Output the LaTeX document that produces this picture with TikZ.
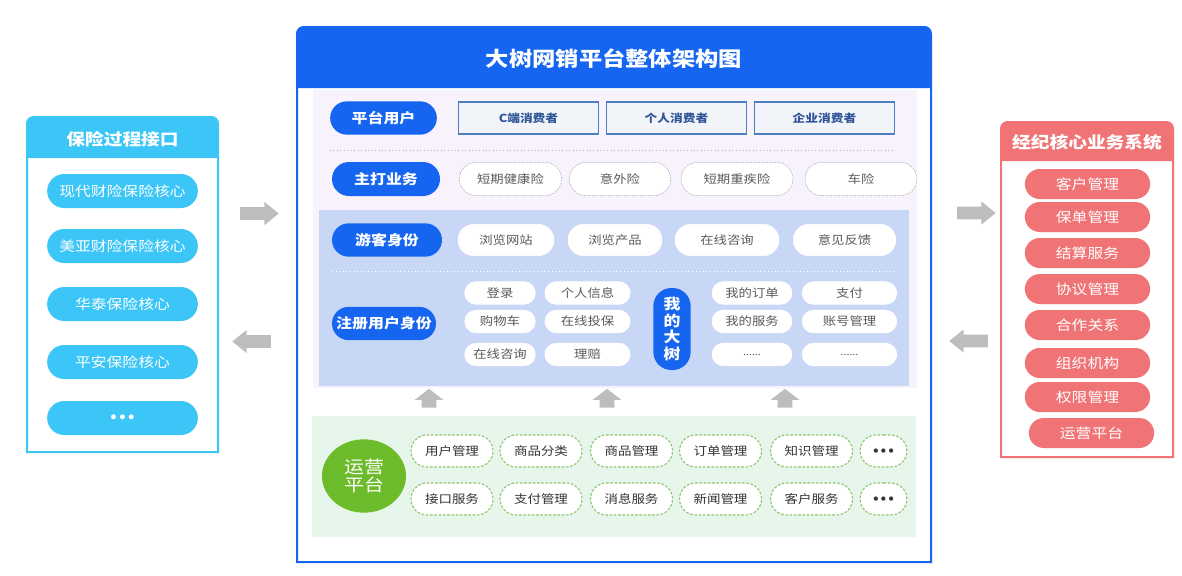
\documentclass[tikz,border=0pt]{standalone}
\usepackage{fontspec}
\setmainfont{Noto Sans CJK SC}[FakeStretch=1.15]
\newfontfamily\dotfont{DejaVu Sans}
\usetikzlibrary{shapes.misc,shapes.arrows,shapes.geometric}
\definecolor{mainblue}{HTML}{1565F0}
\definecolor{lcyan}{HTML}{3CC6F7}
\definecolor{rsalmon}{HTML}{F07476}
\definecolor{lavbg}{HTML}{F7F2FB}
\definecolor{bluebg}{HTML}{C8D7F6}
\definecolor{greenbg}{HTML}{E6F6EA}
\definecolor{opgreen}{HTML}{6CBB2A}
\definecolor{greendash}{HTML}{8DC46C}
\definecolor{graydash}{HTML}{A3A8B8}
\definecolor{boxline}{HTML}{4F7EC0}
\definecolor{boxfill}{HTML}{F1F4F9}
\definecolor{boxtext}{HTML}{2F5597}
\definecolor{graytext}{HTML}{5A5A5A}
\definecolor{arrgray}{HTML}{BDBDBD}
\newcommand{\tridots}{\raisebox{-0.34em}[0pt][0pt]{•••}}

\begin{document}
\begin{tikzpicture}[
x=0.75pt,y=-0.75pt
]

\tikzstyle{bp} = [rounded rectangle, fill=mainblue, text=white, font=\fontsize{10.4}{12}\selectfont\bfseries, minimum height=25pt, inner sep=0pt]
\tikzstyle{ub} = [draw=boxline, fill=boxfill, line width=1pt, text=boxtext, font=\fontsize{8.3}{10}\selectfont\bfseries, minimum width=105pt, minimum height=24pt]
\tikzstyle{gp} = [rounded rectangle, draw=graydash, dash pattern=on 1.2pt off 0.8pt, fill=white, text=graytext, font=\fontsize{8.7}{10}\selectfont, minimum height=25pt, inner sep=0pt]
\tikzstyle{wp} = [rounded rectangle, draw=white, fill=white, text=graytext, font=\fontsize{8.7}{10}\selectfont, minimum height=23.5pt, inner sep=0pt]
\tikzstyle{sp} = [wp, minimum height=17pt]
\tikzstyle{op} = [rounded rectangle, draw=greendash, dash pattern=on 2pt off 1.2pt, line width=0.8pt, fill=white, text=black!80, font=\fontsize{8.8}{10}\selectfont, minimum width=61.5pt, minimum height=24pt, inner sep=0pt]
\tikzstyle{lp} = [rounded rectangle, fill=lcyan, text=white, font=\fontsize{10.3}{12}\selectfont, minimum width=113pt, minimum height=25.5pt, inner sep=0pt]
\tikzstyle{rp} = [rounded rectangle, fill=rsalmon, text=white, font=\fontsize{10.3}{12}\selectfont, minimum width=94pt, minimum height=22.5pt, inner sep=0pt]
\tikzstyle{ga} = [single arrow, fill=arrgray, inner xsep=0pt, inner ysep=4.5pt, single arrow head extend=4pt, single arrow tip angle=78, minimum height=29pt]
\tikzstyle{gu} = [single arrow, fill=arrgray, inner xsep=0pt, inner ysep=5.25pt, single arrow head extend=5.25pt, single arrow tip angle=105, minimum height=14pt, rotate=90]

\useasboundingbox (0,0) rectangle (1182,575);

\fill[white] (27,117) rectangle (218,452);
\fill[lcyan] (27,158) [rounded corners=5pt] -- (27,117) -- (218,117) [sharp corners] -- (218,158) -- cycle;
\draw[lcyan, line width=1.5pt] (27,452) [rounded corners=5pt] -- (27,117) -- (218,117) [sharp corners] -- (218,452) -- cycle;
\node[text=white, font=\fontsize{12.2}{14}\selectfont\bfseries] (lt) at (122.5,139) {保险过程接口};
\node[lp] (l1) at (122.5,191) {现代财险保险核心};
\node[lp] (l2) at (122.5,246) {美亚财险保险核心};
\node[lp] (l3) at (122.5,304) {华泰保险核心};
\node[lp] (l4) at (122.5,362) {平安保险核心};
\node[lp, font=\dotfont\fontsize{10.5}{12}\selectfont\bfseries] (l5) at (122.5,418) {\tridots};

\node[ga] (al1) at (255.5,213.5) {};
\node[ga, rotate=180] (al2) at (255.5,341.5) {};

\fill[white] (297,27) rectangle (931,562);
\fill[mainblue] (297,88) [rounded corners=5pt] -- (297,27) -- (931,27) [sharp corners] -- (931,88) -- cycle;
\draw[mainblue, line width=1.5pt] (297,562) [rounded corners=5pt] -- (297,27) -- (931,27) [sharp corners] -- (931,562) -- cycle;
\node[text=white, font=\fontsize{15.2}{18}\selectfont\bfseries] (mt) at (614,59) {大树网销平台整体架构图};

\fill[lavbg] (313,90) rectangle (917,388);
\node[bp, minimum width=80pt] (u0) at (383.5,118) {平台用户};
\node[ub] (u1) at (528.5,118) {C端消费者};
\node[ub] (u2) at (676.5,118) {个人消费者};
\node[ub] (u3) at (824.5,118) {企业消费者};
\draw[black!30, dotted, line width=0.6pt] (330,150) -- (895,150);
\node[bp, minimum width=81pt, minimum height=25.5pt] (m0) at (386,179) {主打业务};
\node[gp, minimum width=76.5pt] (m1) at (510.5,179) {短期健康险};
\node[gp, minimum width=76pt] (m2) at (620,179) {意外险};
\node[gp, minimum width=84pt] (m3) at (737,179) {短期重疾险};
\node[gp, minimum width=84pt] (m4) at (861,179) {车险};

\fill[bluebg] (319,210) rectangle (909,386);
\node[bp, minimum width=82.5pt] (g0) at (387,240) {游客身份};
\node[wp, minimum width=72pt] (g1) at (506,240) {浏览网站};
\node[wp, minimum width=70.5pt] (g2) at (615,240) {浏览产品};
\node[wp, minimum width=78pt] (g3) at (727,240) {在线咨询};
\node[wp, minimum width=77pt] (g4) at (844.5,240) {意见反馈};
\draw[white, dotted, line width=0.7pt] (332,271) -- (895,271);
\node[bp, minimum width=78pt] (z0) at (384,323.5) {注册用户身份};
\node[sp, minimum width=53pt] (z1) at (500,293) {登录};
\node[sp, minimum width=53pt] (z2) at (500,321.5) {购物车};
\node[sp, minimum width=53pt] (z3) at (500,354.5) {在线咨询};
\node[sp, minimum width=64pt] (z4) at (587.5,293) {个人信息};
\node[sp, minimum width=64pt] (z5) at (587.5,321.5) {在线投保};
\node[sp, minimum width=64pt] (z6) at (587.5,354.5) {理赔};
\node[rectangle, rounded corners=13.5pt, fill=mainblue, text=white, align=center, font=\fontsize{11}{12.5}\selectfont\bfseries, minimum width=28pt, minimum height=61.5pt, inner sep=0pt] (dt) at (672,329) {我\\的\\大\\树};
\node[sp, minimum width=60pt] (z7) at (752,293) {我的订单};
\node[sp, minimum width=60pt] (z8) at (752,321.5) {我的服务};
\node[sp, minimum width=60pt, font=\fontsize{7}{8}\selectfont] (z9) at (752,354.5) {......};
\node[sp, minimum width=71pt] (z10) at (849.5,293) {支付};
\node[sp, minimum width=71pt] (z11) at (849.5,321.5) {账号管理};
\node[sp, minimum width=71pt, font=\fontsize{7}{8}\selectfont] (z12) at (849.5,354.5) {......};

\node[gu] (up1) at (429,401) {};
\node[gu] (up2) at (607,401) {};
\node[gu] (up3) at (785,401) {};

\fill[greenbg] (312,416) rectangle (916,537);
\node[ellipse, fill=opgreen, text=white, align=center, font=\fontsize{13}{14}\selectfont, minimum width=63pt, minimum height=55pt, inner sep=0pt] (op) at (364,476) {运营\\平台};
\node[op] (o1) at (452,451) {用户管理};
\node[op] (o2) at (541,451) {商品分类};
\node[op] (o3) at (631.5,451) {商品管理};
\node[op] (o4) at (720.5,451) {订单管理};
\node[op] (o5) at (811.5,451) {知识管理};
\node[op, minimum width=35pt, font=\dotfont\fontsize{9}{10}\selectfont\bfseries] (o6) at (883.5,451) {\tridots};
\node[op] (o7) at (452,499) {接口服务};
\node[op] (o8) at (541,499) {支付管理};
\node[op] (o9) at (631.5,499) {消息服务};
\node[op] (o10) at (720.5,499) {新闻管理};
\node[op] (o11) at (811.5,499) {客户服务};
\node[op, minimum width=35pt, font=\dotfont\fontsize{9}{10}\selectfont\bfseries] (o12) at (883.5,499) {\tridots};

\node[ga] (ar1) at (972.5,213) {};
\node[ga, rotate=180] (ar2) at (972.5,341) {};

\fill[white] (1001,122) rectangle (1173,457);
\fill[rsalmon] (1001,161) [rounded corners=5pt] -- (1001,122) -- (1173,122) [sharp corners] -- (1173,161) -- cycle;
\draw[rsalmon, line width=1.5pt] (1001,457) [rounded corners=5pt] -- (1001,122) -- (1173,122) [sharp corners] -- (1173,457) -- cycle;
\node[text=white, font=\fontsize{12.2}{14}\selectfont\bfseries] (rt) at (1087,142) {经纪核心业务系统};
\node[rp] (r1) at (1087.5,184) {客户管理};
\node[rp] (r2) at (1087.5,217) {保单管理};
\node[rp] (r3) at (1087.5,253) {结算服务};
\node[rp] (r4) at (1087.5,289) {协议管理};
\node[rp] (r5) at (1087.5,325) {合作关系};
\node[rp] (r6) at (1087.5,363) {组织机构};
\node[rp] (r7) at (1087.5,397) {权限管理};
\node[rp] (r8) at (1091.5,433) {运营平台};

\end{tikzpicture}
\end{document}
